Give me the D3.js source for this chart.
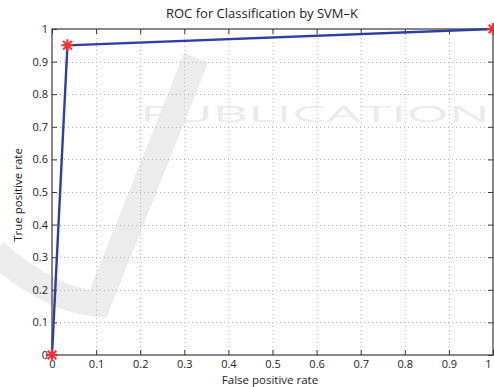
<!DOCTYPE html>
<html>
<head>
<meta charset="utf-8">
<script src="https://cdn.jsdelivr.net/npm/d3@7"></script>
<style>
  html, body { margin: 0; padding: 0; background: #fff; }
  svg { display: block; }
  text { font-family: "Open Sans", "Noto Sans", sans-serif; }
</style>
</head>
<body>
<svg id="chart" width="494" height="387"></svg>
<script>
// ---- data ----
const fpr = [0, 0.035, 1];
const tpr = [0, 0.95, 1];
const tickValues = [0, 0.1, 0.2, 0.3, 0.4, 0.5, 0.6, 0.7, 0.8, 0.9, 1];
const tickLabels = ["0", "0.1", "0.2", "0.3", "0.4", "0.5", "0.6", "0.7", "0.8", "0.9", "1"];
const titleText = "ROC for Classification by SVM\u2013K";
const xLabelText = "False positive rate";
const yLabelText = "True positive rate";

const W = 494, H = 387;
const margin = { left: 52, right: 1, top: 29, bottom: 32 };
const svg = d3.select("#chart");

// ---- faint watermark (background decoration) ----
const wm = svg.append("g");
wm.append("path")
  .attr("d", "M-5,252 Q50,300 98,304 L196,58")
  .attr("fill", "none").attr("stroke", "#ececec").attr("stroke-width", 26);
wm.append("text")
  .attr("x", 140).attr("y", 122)
  .attr("font-family", "DejaVu Sans")
  .attr("font-size", 22)
  .attr("fill", "#ebebeb")
  .attr("textLength", 350).attr("lengthAdjust", "spacingAndGlyphs")
  .text("PUBLICATION");

// ---- scales ----
const x = d3.scaleLinear().domain([0, 1]).range([margin.left, W - margin.right]);
const y = d3.scaleLinear().domain([0, 1]).range([H - margin.bottom, margin.top]);
const x0 = x(0), x1 = x(1), y0 = y(0), y1 = y(1);

// ---- grid ----
const grid = svg.append("g").attr("stroke", "#b5b5b5").attr("stroke-width", 1)
  .attr("stroke-dasharray", "1,3");
tickValues.slice(1, -1).forEach(v => {
  grid.append("line").attr("x1", x(v) + 0.5).attr("x2", x(v) + 0.5)
    .attr("y1", y0).attr("y2", y1);
  grid.append("line").attr("y1", Math.round(y(v)) + 0.5).attr("y2", Math.round(y(v)) + 0.5)
    .attr("x1", x0).attr("x2", x1);
});

// ---- axes ----
const fmt = (d, i) => tickLabels[i];
const axisColor = "#3a3a3a";
function styleAxis(g) {
  g.select(".domain").remove();
  g.selectAll(".tick line").attr("stroke", axisColor);
  g.selectAll(".tick text").attr("fill", "#222").attr("font-size", 11)
    .attr("font-family", "\"Open Sans\", sans-serif");
}
const xAxisG = svg.append("g").attr("transform", `translate(0,${y0})`)
  .call(d3.axisBottom(x).tickValues(tickValues).tickFormat(fmt).tickSizeInner(-5).tickSizeOuter(0).tickPadding(5))
  .call(styleAxis);
// keep the last label inside the window
xAxisG.selectAll(".tick text").filter(d => d === 1).attr("text-anchor", "end").attr("dx", -2);
svg.append("g").attr("transform", `translate(${x0},0)`)
  .call(d3.axisLeft(y).tickValues(tickValues).tickFormat(fmt).tickSizeInner(-5).tickSizeOuter(0).tickPadding(4))
  .call(styleAxis);
svg.append("g").attr("transform", `translate(0,${y1})`)
  .call(d3.axisTop(x).tickValues(tickValues).tickFormat("").tickSizeInner(-5).tickSizeOuter(0))
  .call(styleAxis);
svg.append("g").attr("transform", `translate(${x1},0)`)
  .call(d3.axisRight(y).tickValues(tickValues).tickFormat("").tickSizeInner(-5).tickSizeOuter(0))
  .call(styleAxis);

// box
svg.append("rect").attr("x", x0).attr("y", y1).attr("width", x1 - x0).attr("height", y0 - y1)
  .attr("fill", "none").attr("stroke", axisColor).attr("stroke-width", 1.2);

// ---- line ----
const pts = fpr.map((f, i) => [f, tpr[i]]);
svg.append("path").datum(pts)
  .attr("d", d3.line().x(d => x(d[0])).y(d => y(d[1])))
  .attr("fill", "none").attr("stroke", "#2d3fa6").attr("stroke-width", 2.4);

// ---- asterisk markers ----
const r = 6;
const star = `M${-r},0L${r},0M0,${-r}L0,${r}M${-r*0.72},${-r*0.72}L${r*0.72},${r*0.72}M${-r*0.72},${r*0.72}L${r*0.72},${-r*0.72}`;
svg.append("g").selectAll("path").data(pts).join("path")
  .attr("transform", d => `translate(${x(d[0])},${y(d[1])})`)
  .attr("d", star)
  .attr("fill", "none").attr("stroke", "#ff2a2a").attr("stroke-width", 2);

// ---- titles ----
svg.append("text").attr("x", 262).attr("y", 18).attr("text-anchor", "middle")
  .attr("font-size", 13).attr("fill", "#222").text(titleText);
svg.append("text").attr("x", 270).attr("y", 384).attr("text-anchor", "middle")
  .attr("font-size", 11.5).attr("fill", "#222").text(xLabelText);
svg.append("text").attr("transform", "translate(22,195) rotate(-90)").attr("text-anchor", "middle")
  .attr("font-size", 11.5).attr("fill", "#222").text(yLabelText);
</script>
</body>
</html>
